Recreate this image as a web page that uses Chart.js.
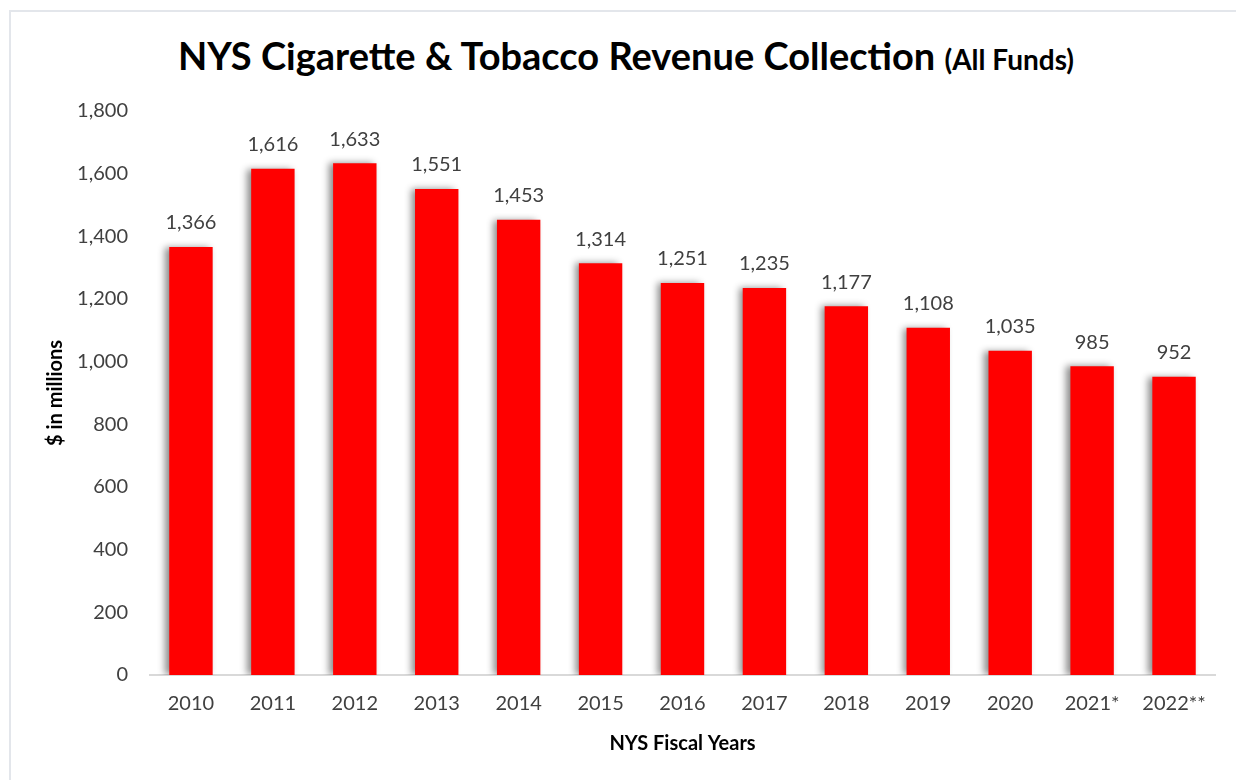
<!DOCTYPE html>
<html>
<head>
<meta charset="utf-8">
<script src="https://cdn.jsdelivr.net/npm/chart.js@4/dist/chart.umd.min.js"></script>
<style>
    html, body { margin: 0; padding: 0; background: #fff; }
    body { width: 1236px; height: 780px; position: relative; overflow: hidden; font-family: Lato, "Open Sans", sans-serif; }
    #frame { position: absolute; left: 9px; top: 10px; width: 1300px; height: 800px; border: 2px solid #e3e6eb; box-sizing: border-box; }
    #title { position: absolute; left: 0; width: 1252px; top: 32px; text-align: center; font-weight: bold; font-size: 38px; color: #000; white-space: nowrap; }
    #title span { font-size: 28px; }
    #wrap { position: absolute; left: 0; top: 0; width: 1236px; height: 780px; }
</style>
</head>
<body>
<div id="frame"></div>
<div id="title">NYS Cigarette &amp; Tobacco Revenue Collection <span>(All Funds)</span></div>
<div id="wrap"><canvas id="revenue-chart"></canvas></div>
<script>
// revenue chart — NYS cigarette & tobacco collections

const years    = ["2010", "2011", "2012", "2013", "2014", "2015", "2016", "2017", "2018", "2019", "2020", "2021*", "2022**"];
const revenue  = [1366, 1616, 1633, 1551, 1453, 1314, 1251, 1235, 1177, 1108, 1035, 985, 952];
const yMax     = 1800;
const yStep    = 200;

const TEXT = "#404040";
const FONT = "Lato, 'Open Sans', sans-serif";

const fmt = v => v.toLocaleString("en-US");

// soft shadow on the left side of each bar, like the original
const barShadow = {
    id: "barShadow",
    beforeDatasetDraw(chart) {
        const c = chart.ctx;
        c.save();
        c.shadowColor   = "rgba(0,0,0,0.45)";
        c.shadowBlur    = 7;
        c.shadowOffsetX = -4;
        c.shadowOffsetY = 0;
    },
    afterDatasetDraw(chart) {
        chart.ctx.restore();
    }
};

// value labels above bars
const valueLabels = {
    id: "valueLabels",
    afterDatasetsDraw(chart) {
        const c    = chart.ctx;
        const meta = chart.getDatasetMeta(0);
        c.save();
        c.font         = `20px ${FONT}`;
        c.fillStyle    = TEXT;
        c.textAlign    = "center";
        c.textBaseline = "bottom";
        meta.data.forEach((bar, i) => {
            c.fillText(fmt(revenue[i]), bar.x, bar.y - 14);
        });
        c.restore();
    }
};

new Chart(document.getElementById("revenue-chart"), {
    type: "bar",
    data: {
        labels: years,
        datasets: [{
            data:            revenue,
            backgroundColor: "#ff0000",
            borderWidth:     0,
            categoryPercentage: 1,
            barPercentage:   0.53,
        }]
    },
    options: {
        responsive:          true,
        maintainAspectRatio: false,
        animation:           false,
        layout: { padding: { top: 111, right: 21, left: 40, bottom: 16 } },
        plugins: {
            legend:  { display: false },
            tooltip: { enabled: false },
        },
        scales: {
            x: {
                grid:   { display: false, drawTicks: false },
                border: { display: true, color: "#d9d9d9", width: 2 },
                ticks:  { color: TEXT, font: { family: FONT, size: 20 }, padding: 17, maxRotation: 0, autoSkip: false },
                title:  { display: true, text: "NYS Fiscal Years", color: "#000", font: { family: FONT, size: 20, weight: "bold" }, padding: { top: 0, bottom: 8 } },
                afterFit: s => { s.height = 89; },
            },
            y: {
                min: 0,
                max: yMax,
                grid:   { display: false, drawTicks: false },
                border: { display: false },
                ticks:  { stepSize: yStep, color: TEXT, font: { family: FONT, size: 20 }, padding: 22, callback: v => fmt(v) },
                title:  { display: true, text: "$ in millions", color: "#000", font: { family: FONT, size: 20, weight: "bold" }, padding: 4 },
                afterFit: s => { s.width = 110; },
            }
        }
    },
    plugins: [barShadow, valueLabels]
});
</script>
</body>
</html>
